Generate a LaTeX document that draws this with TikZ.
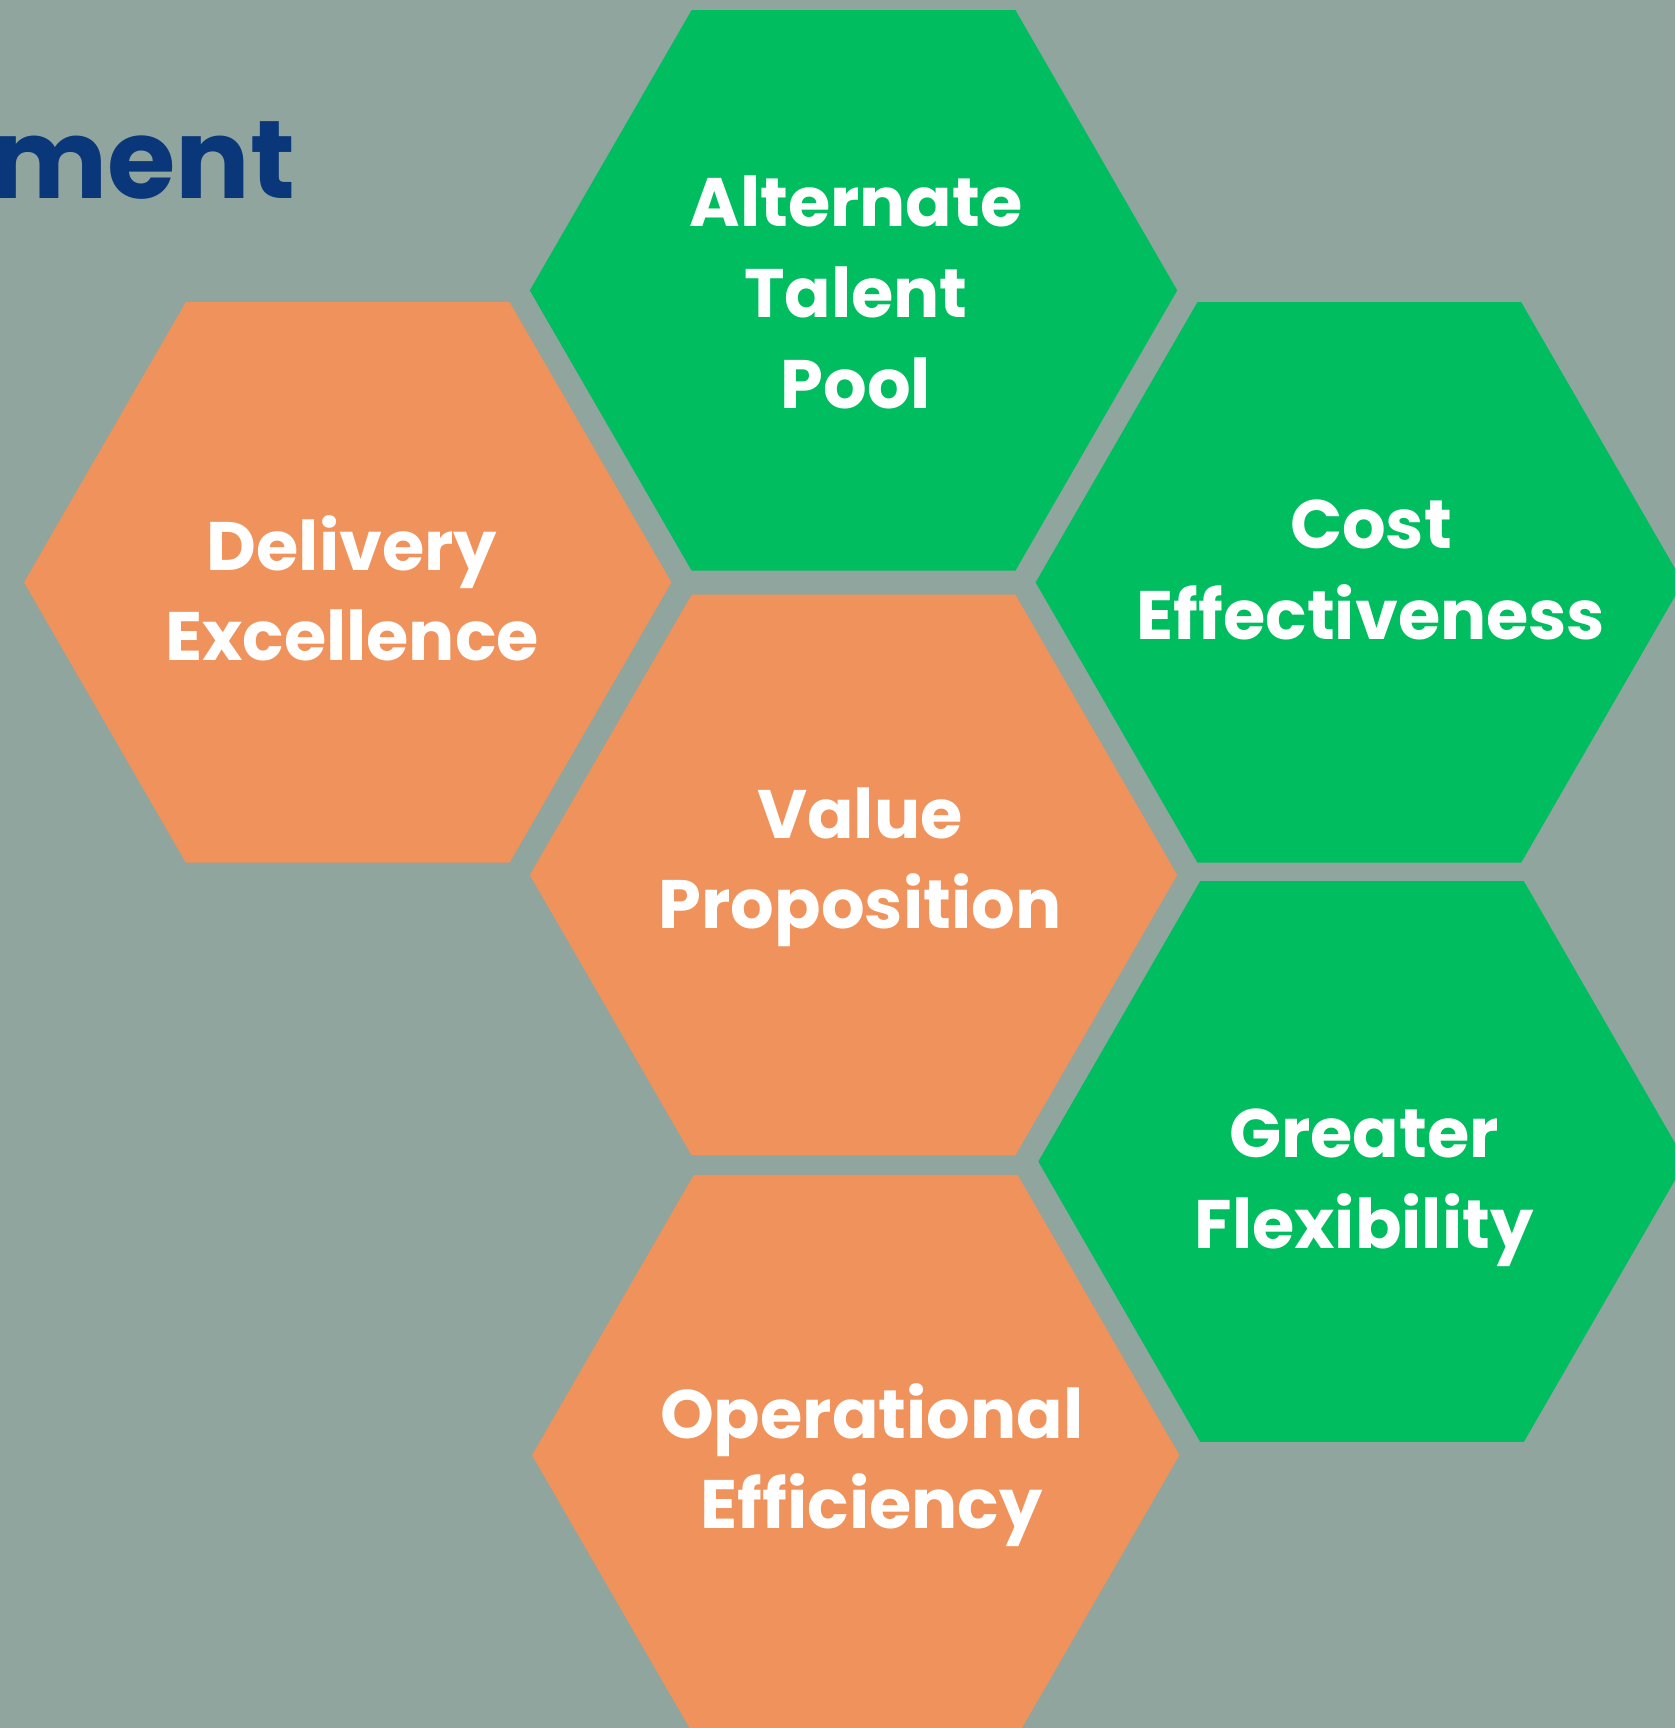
\documentclass[tikz,border=0pt]{standalone}
\usepackage{fontspec}
\setmainfont{Poppins}
\usetikzlibrary{shapes.geometric}
\definecolor{slatebg}{RGB}{143,165,158}
\definecolor{cellgreen}{RGB}{0,189,95}
\definecolor{cellorange}{RGB}{239,146,91}
\definecolor{titleblue}{RGB}{10,54,122}
\begin{document}
\begin{tikzpicture}[x=0.01cm, y=-0.01cm,
    hexcell/.style={regular polygon, regular polygon sides=6, minimum size=6.47cm,
        inner sep=0pt, outer sep=0pt},
    greencell/.style={hexcell, fill=cellgreen},
    orangecell/.style={hexcell, fill=cellorange},
    celltext/.style={text=white, align=center, inner sep=0pt, text depth=0pt,
        font=\bfseries\fontsize{19.5}{25.8}\selectfont}]
%page and background
\useasboundingbox (0, 0) rectangle (1675, 1728);
\clip (0, 0) rectangle (1675, 1728);
\fill[slatebg] (0, 0) rectangle (1675, 1728);
%title, cut at the left edge
\node[anchor=base east, inner sep=0pt, text=titleblue,
    font=\bfseries\fontsize{31.5}{36}\selectfont]
    (title) at (296, 199) {ment};
%green cells
\node[greencell] (talent) at (853.5, 290.4) {};
\node[greencell] (cost) at (1359.3, 582.4) {};
\node[greencell] (flex) at (1362, 1161.5) {};
%orange cells
\node[orangecell] (delivery) at (347.7, 582.4) {};
\node[orangecell] (value) at (853.5, 875) {};
\node[orangecell] (operational) at (855.7, 1455.2) {};
%labels
\node[celltext] (talentlabel) at (856, 292) {Alternate\\Talent\\Pool};
\node[celltext] (costlabel) at (1371, 570) {Cost\\Effectiveness};
\node[celltext] (flexlabel) at (1364, 1179) {Greater\\Flexibility};
\node[celltext] (deliverylabel) at (352, 588) {Delivery\\Excellence};
\node[celltext] (valuelabel) at (860, 858) {Value\\Proposition};
\node[celltext] (operationallabel) at (871.7, 1456) {Operational\\Efficiency};
\end{tikzpicture}
\end{document}
